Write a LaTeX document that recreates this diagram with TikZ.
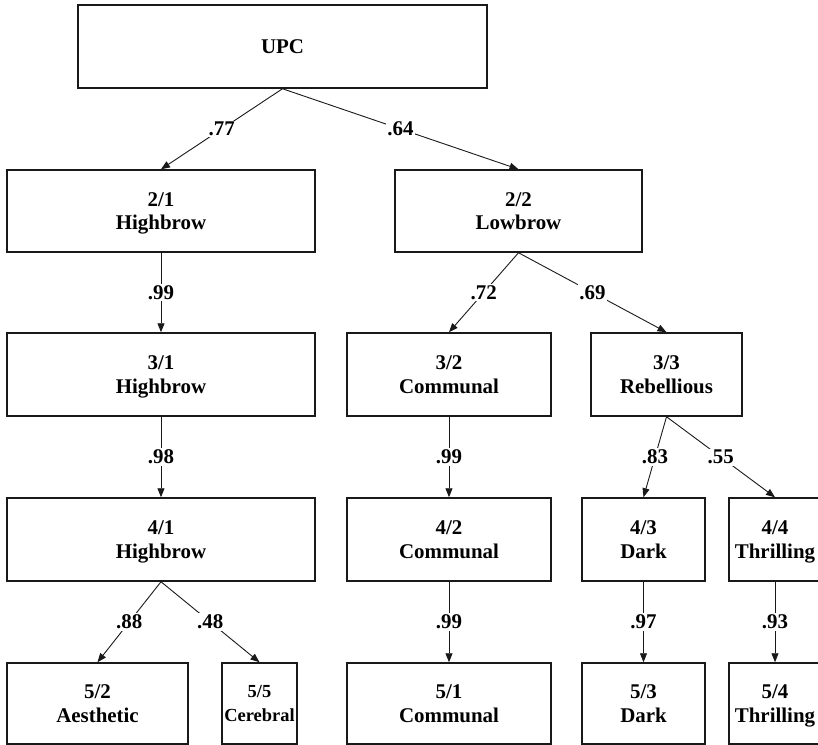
\documentclass[tikz,border=0pt]{standalone}
\usepackage{fontspec}
\setmainfont{Liberation Serif}
\usetikzlibrary{arrows.meta}
\begin{document}
\begin{tikzpicture}[x=1bp,y=-1bp,
  box/.style={draw=black!90, line width=1.5bp, inner sep=0pt, align=center, text depth=0pt,
    font=\fontsize{21}{23.5}\selectfont\bfseries},
  lbl/.style={fill=white, inner sep=1.5bp, font=\fontsize{21}{24}\selectfont\bfseries},
  link/.style={draw=black!90, line width=0.9bp, -{Triangle[length=9bp,width=7bp]}}]
\useasboundingbox (0,0) rectangle (818,745);
\node[box, minimum width=409bp, minimum height=83bp] (upc) at (282.5,46.5) {UPC};
\node[box, minimum width=308bp, minimum height=82bp] (n21) at (161,211) {2/1\\Highbrow};
\node[box, minimum width=247bp, minimum height=82bp] (n22) at (518.5,211) {2/2\\Lowbrow};
\node[box, minimum width=308bp, minimum height=83bp] (n31) at (161,374.5) {3/1\\Highbrow};
\node[box, minimum width=204bp, minimum height=83bp] (n32) at (449,374.5) {3/2\\Communal};
\node[box, minimum width=151bp, minimum height=83bp] (n33) at (666.5,374.5) {3/3\\Rebellious};
\node[box, minimum width=308bp, minimum height=83bp] (n41) at (161,539.5) {4/1\\Highbrow};
\node[box, minimum width=204bp, minimum height=83bp] (n42) at (449,539.5) {4/2\\Communal};
\node[box, minimum width=123bp, minimum height=83bp] (n43) at (643.5,539.5) {4/3\\Dark};
\node[box, minimum width=92bp, minimum height=83bp] (n44) at (775,539.5) {4/4\\Thrilling};
\node[box, minimum width=181bp, minimum height=81bp] (n52) at (97.5,703.5) {5/2\\Aesthetic};
\node[box, minimum width=75bp, minimum height=81bp, font=\fontsize{18.5}{23.5}\selectfont\bfseries] (n55) at (259.5,703.5) {5/5\\Cerebral};
\node[box, minimum width=204bp, minimum height=81bp] (n51) at (449,703.5) {5/1\\Communal};
\node[box, minimum width=123bp, minimum height=81bp] (n53) at (643.5,703.5) {5/3\\Dark};
\node[box, minimum width=92bp, minimum height=81bp] (n54) at (775,703.5) {5/4\\Thrilling};

\draw[link] (upc.south) -- node[lbl]{.77} (n21.north);
\draw[link] (upc.south) -- node[lbl]{.64} (n22.north);
\draw[link] (n21.south) -- node[lbl]{.99} (n31.north);
\draw[link] (n22.south) -- node[lbl]{.72} (n32.north);
\draw[link] (n22.south) -- node[lbl]{.69} (n33.north);
\draw[link] (n31.south) -- node[lbl]{.98} (n41.north);
\draw[link] (n32.south) -- node[lbl]{.99} (n42.north);
\draw[link] (n33.south) -- node[lbl]{.83} (n43.north);
\draw[link] (n33.south) -- node[lbl]{.55} (n44.north);
\draw[link] (n41.south) -- node[lbl]{.88} (n52.north);
\draw[link] (n41.south) -- node[lbl]{.48} (n55.north);
\draw[link] (n42.south) -- node[lbl]{.99} (n51.north);
\draw[link] (n43.south) -- node[lbl]{.97} (n53.north);
\draw[link] (n44.south) -- node[lbl]{.93} (n54.north);
\end{tikzpicture}
\end{document}
